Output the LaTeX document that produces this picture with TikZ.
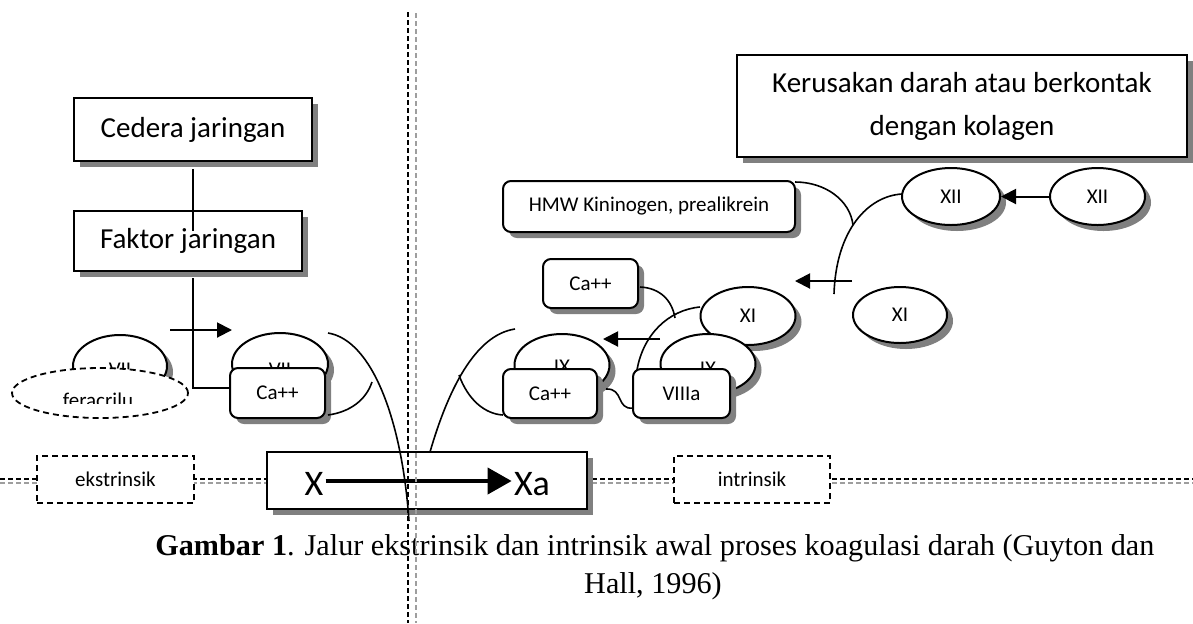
\documentclass[tikz,border=0pt]{standalone}
\usepackage{fontspec}
\setmainfont{Liberation Serif}
\newfontfamily\calib{Carlito}
\usetikzlibrary{arrows.meta,shapes.geometric,shadows}
\definecolor{ShadeClr}{rgb}{0.5,0.5,0.5}
\definecolor{DashClr}{rgb}{0.62,0.62,0.62}

\begin{document}
\begin{tikzpicture}[x=0.5pt,y=-0.5pt,
  every node/.style={font=\calib},
  shd/.style={drop shadow={shadow xshift=3pt,shadow yshift=-3pt,fill=ShadeClr,opacity=1}},
  boxA/.style={draw,line width=1pt,fill=white,shd,inner sep=0pt},
  rbox/.style={boxA,rounded corners=4pt},
  oval/.style={ellipse,draw,line width=1pt,fill=white,shd,inner sep=0pt},
  dbox/.style={draw,line width=0.9pt,dash pattern=on 3pt off 2pt,fill=white,inner sep=0pt},
  lbl/.style={font=\calib\fontsize{10.5}{12}\selectfont},
  big/.style={font=\calib\fontsize{14.5}{21.5}\selectfont},
  huge/.style={font=\calib\fontsize{18}{20}\selectfont,inner sep=1pt},
  link/.style={line width=0.8pt},
  arr/.style={line width=1pt,-{Triangle[length=7.5pt,width=7.5pt]}},
  bigarr/.style={line width=2pt,-{Triangle[length=12pt,width=13pt]}},
  blk/.style={line width=0.9pt,dash pattern=on 2.5pt off 1.5pt},
  gry/.style={line width=1.4pt,DashClr,dash pattern=on 2.5pt off 1.5pt},
  capt/.style={font=\normalfont\fontsize{15.1}{18}\selectfont,inner sep=0pt},
]
\useasboundingbox (0,0) rectangle (1193,623);

\draw[blk] (0,479) -- (1193,479);
\draw[gry] (0,483) -- (1193,483);

\node[boxA,big,minimum width=119pt,minimum height=31.5pt] (Ced) at (193,129.5) {Cedera jaringan};
\node[boxA,big,minimum width=114pt,minimum height=30pt] (Fak) at (188,241) {Faktor jaringan};

\node[oval,minimum width=47pt,minimum height=31pt] (VIIl) at (120,366) {};
\node[lbl] (VIIlt) at (120,370) {VII};
\node[ellipse,draw,line width=0.9pt,dash pattern=on 3pt off 2pt,fill=white,inner sep=0pt,
  minimum width=88pt,minimum height=25pt] (Fer) at (100,393) {};
\begin{scope}
\clip (10,380) rectangle (190,403);
\node[lbl] (Fert) at (98,400) {feracrilu};
\end{scope}

\node[oval,minimum width=48pt,minimum height=31pt] (VIIr) at (280,364) {};
\node[lbl] (VIIrt) at (280,370) {VII};
\node[rbox,lbl,minimum width=47.5pt,minimum height=25pt] (CaL) at (277.5,393) {Ca++};

\draw[link] ([yshift=-3.5pt]Ced.south) -- ([yshift=-10.5pt]Ced.south |- Fak.north);
\draw[link] ([yshift=-3pt]Ced.south |- Fak.south) -- ([yshift=2.5pt]Ced.south |- CaL.west)
  -- ([yshift=2.5pt]CaL.west);
\coordinate (E1) at (170,330);
\coordinate (E2) at (232,330);
\draw[arr] (E1) -- (E2);

\node[dbox,lbl,minimum width=78.5pt,minimum height=23.5pt] (Eks) at (115.5,479.5) {ekstrinsik};
\node[dbox,lbl,minimum width=78pt,minimum height=23.5pt] (Int) at (752,479.5) {intrinsik};
\node[boxA,minimum width=160pt,minimum height=28.5pt] (Xbox) at (427,480.5) {};
\node[huge] (X) at (314,484) {X};
\node[huge] (Xa) at (532,484) {Xa};
\draw[bigarr] ([yshift=1.5pt]X.east) -- ([yshift=1.5pt]Xa.west);

\draw[link] (328,333) .. controls (372,340) and (402,420) .. (409,521);
\draw[link] (328,415) .. controls (350,412) and (366,400) .. (372,382);

\node[oval,minimum width=47.5pt,minimum height=31pt] (IXl) at (562,365) {};
\node[lbl] (IXlt) at (562,367) {IX};
\node[rbox,lbl,minimum width=47pt,minimum height=24.5pt] (CaM) at (550,393.5) {Ca++};
\node[oval,lbl,minimum width=47.5pt,minimum height=29pt] (XIm) at (748,316) {XI};
\node[oval,minimum width=47.5pt,minimum height=30pt] (IXr) at (708,364) {};
\node[lbl] (IXrt) at (708,369) {IX};
\node[rbox,lbl,minimum width=48.5pt,minimum height=24.5pt] (VIIIa) at (681.5,393.5) {VIIIa};
\node[rbox,lbl,minimum width=47.5pt,minimum height=24.5pt] (CaT) at (590.5,283.5) {Ca++};
\node[rbox,lbl,minimum width=146pt,minimum height=25.5pt] (HMW) at (649,206.5) {HMW Kininogen, prealikrein};
\node[boxA,big,align=center,minimum width=225pt,minimum height=51pt] (Ker) at (962,106)
  {Kerusakan darah atau berkontak\\dengan kolagen};
\node[oval,lbl,minimum width=49pt,minimum height=28.5pt] (XIIm) at (951,196.5) {XII};
\node[oval,lbl,minimum width=47.5pt,minimum height=28.5pt] (XIIr) at (1097.5,196.5) {XII};
\node[oval,lbl,minimum width=47pt,minimum height=28pt] (XIr) at (900,315) {XI};

\draw[arr] (XIIr) -- (XIIm);
\coordinate (E3) at (852,281);
\coordinate (E4) at (795,281);
\draw[arr] (E3) -- (E4);
\coordinate (E5) at (660,339);
\coordinate (E6) at (603,339);
\draw[arr] (E5) -- (E6);

\draw[link] (430,452) .. controls (448,390) and (475,335) .. (515,329);
\draw[link] (459,375) .. controls (468,400) and (485,414) .. (503,415);
\draw[link] (606,389) .. controls (624,388) and (616,410) .. (633,408);
\draw[link] (700,307) .. controls (668,310) and (643,335) .. (637,370);
\draw[link] (640,287) .. controls (660,288) and (672,300) .. (675,318);
\draw[link] (902,194) .. controls (868,196) and (836,230) .. (834,294);
\draw[link] (795,182) .. controls (825,182) and (850,200) .. (853,225);

\node[capt,anchor=west] (Cap1) at (155,548)
  {\textbf{Gambar 1}. Jalur ekstrinsik dan intrinsik awal proses koagulasi darah (Guyton dan};
\node[capt] (Cap2) at (653,586) {Hall, 1996)};

\draw[blk] (408,12) -- (408,623);
\draw[gry] (416,13) -- (416,623);
\end{tikzpicture}
\end{document}
